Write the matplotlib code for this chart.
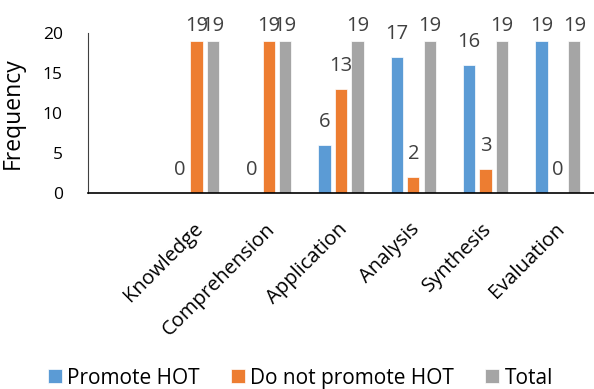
import numpy as np
import matplotlib
matplotlib.use("Agg")
import matplotlib.pyplot as plt

# Niveles de la taxonomía y frecuencias por grupo
categorias = ["Knowledge", "Comprehension", "Application", "Analysis", "Synthesis", "Evaluation"]
promote = [0, 0, 6, 17, 16, 19]
no_promote = [19, 19, 13, 2, 3, 0]
total = [19, 19, 19, 19, 19, 19]

series = [
    ("Promote HOT", promote, "#5B9BD5"),
    ("Do not promote HOT", no_promote, "#ED7D31"),
    ("Total", total, "#A5A5A5"),
]

plt.rcParams["font.family"] = ["Open Sans", "DejaVu Sans"]

fig = plt.figure(figsize=(5.94, 3.89), dpi=100)
ax = fig.add_axes([0.148, 0.504, 0.852, 0.411])

x = np.arange(len(categorias))
ancho = 0.17
paso = 0.228

for i, (nombre, valores, color) in enumerate(series):
    pos = x + (i - 1) * paso
    ax.bar(pos, valores, width=ancho, color=color, edgecolor="white", linewidth=0.5, label=nombre)
    #-->Etiqueta con el valor encima de cada barra
    for xp, v in zip(pos, valores):
        off = 7 if v >= 18 else 13
        ax.annotate(str(v), (xp, v), xytext=(0, off), textcoords="offset points",
                    ha="center", va="baseline", fontsize=14.5, color="#404040",
                    annotation_clip=False)

ax.set_xlim(-1.5, 5.5)
ax.set_ylim(0, 20)
ax.set_yticks([0, 5, 10, 15, 20])
ax.set_xticks(x + 0.05)
ax.set_xticklabels(categorias, rotation=45, ha="right", va="center", rotation_mode="anchor", fontsize=14.5)
ax.tick_params(axis="y", length=0, pad=18, labelsize=12.5)
ax.tick_params(axis="x", length=0, pad=24)
ax.set_ylabel("Frequency", fontsize=16.5)
ax.yaxis.set_label_coords(-0.125, 0.5)

for lado in ["top", "right"]:
    ax.spines[lado].set_visible(False)
ax.spines["left"].set_color("#404040")
ax.spines["bottom"].set_color("black")
ax.spines["bottom"].set_linewidth(1.2)

fig.legend(loc="center", bbox_to_anchor=(0.506, 0.028), ncol=3, frameon=False,
           fontsize=15, handlelength=0.67, handleheight=0.67, handletextpad=0.25,
           columnspacing=1.5, borderaxespad=0)

fig.savefig("out.png", dpi=100)
